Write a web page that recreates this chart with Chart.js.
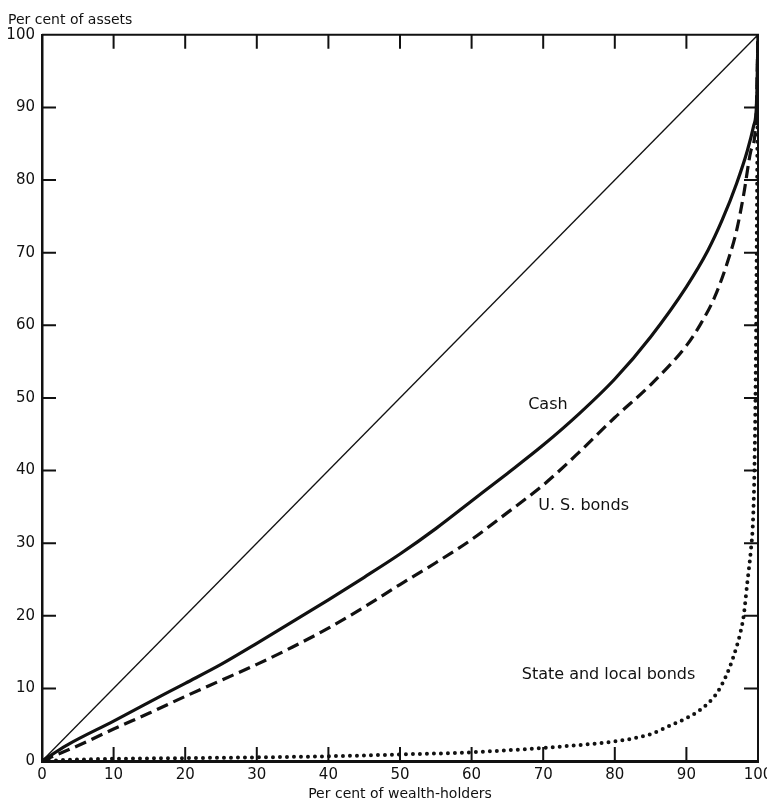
<!DOCTYPE html>
<html lang="en">
<head>
  <meta charset="UTF-8" />
  <title>Concentration of asset holdings</title>
  <script src="https://cdn.jsdelivr.net/npm/chart.js"></script>
  <style>
    body {
      margin: 0;
      background: #fff;
    }
    canvas {
      display: block;
    }
  </style>
</head>
<body>
  <canvas id="lorenz" width="767" height="801"></canvas>

  <script>
    // axis ticks
    const tickValues = [0, 10, 20, 30, 40, 50, 60, 70, 80, 90, 100];

    // line of equal distribution
    const equalX = [0, 100];
    const equalY = [0, 100];

    // Cash
    const cashX = [0, 3.5, 10, 14, 20, 25, 30, 35, 40, 45, 50, 55, 60, 65, 70, 75, 80, 85, 90, 93, 95, 97, 98.5, 99.4, 99.8, 100];
    const cashY = [0, 2.2, 5.5, 7.6, 10.7, 13.3, 16.2, 19.2, 22.2, 25.3, 28.5, 32.0, 35.8, 39.6, 43.5, 47.8, 52.6, 58.4, 65.3, 70.3, 74.5, 79.5, 84.0, 87.5, 90.5, 100];

    // U. S. bonds
    const usBondsX = [0, 5, 10, 15, 20, 25, 30, 35, 40, 45, 50, 55, 60, 65, 70, 75, 80, 85, 90, 92, 94, 96, 97, 98, 99, 99.7, 100];
    const usBondsY = [0, 2.1, 4.4, 6.6, 8.9, 11.1, 13.3, 15.7, 18.3, 21.2, 24.3, 27.3, 30.5, 34.2, 38.0, 42.5, 47.3, 51.8, 57.2, 60.2, 64.0, 69.5, 73.0, 78.0, 84.0, 88.0, 100];

    // State and local bonds
    const stateX = [0, 5, 10, 20, 30, 40, 50, 60, 70, 75, 80, 85, 88, 90, 92, 94, 95, 96, 97, 97.5, 98, 98.5, 99, 99.3, 99.5, 99.7, 99.85, 100];
    const stateY = [0, 0.2, 0.3, 0.4, 0.5, 0.65, 0.9, 1.2, 1.8, 2.2, 2.7, 3.7, 5.0, 5.9, 7.1, 9.0, 10.6, 12.8, 15.7, 17.5, 20.0, 24.5, 29.0, 33.0, 40.0, 55.0, 75.0, 100];

    // curve labels, placed in data units
    const labelText = ["Cash", "U. S. bonds", "State and local bonds"];
    const labelX = [67.9, 69.3, 67.0];
    const labelY = [49.0, 35.2, 11.8];

    const ink = "#111";
    const fontName = "'DejaVu Sans', sans-serif";

    function points(xs, ys) {
      return xs.map((x, i) => ({ x: x, y: ys[i] }));
    }

    // frame on top/right, inward tick marks and curve labels
    const frameAndLabels = {
      id: "frameAndLabels",
      afterDatasetsDraw: (chart) => {
        const ctx = chart.ctx;
        const a = chart.chartArea;
        const xs = chart.scales.x;
        const ys = chart.scales.y;
        const len = 14;

        ctx.save();
        ctx.strokeStyle = ink;
        ctx.lineWidth = 2;
        ctx.beginPath();
        ctx.moveTo(a.left, a.top);
        ctx.lineTo(a.right, a.top);
        ctx.lineTo(a.right, a.bottom);
        ctx.stroke();

        ctx.beginPath();
        tickValues.slice(1, -1).forEach((v) => {
          const px = xs.getPixelForValue(v);
          ctx.moveTo(px, a.bottom);
          ctx.lineTo(px, a.bottom - len);
          ctx.moveTo(px, a.top);
          ctx.lineTo(px, a.top + len);
          const py = ys.getPixelForValue(v);
          ctx.moveTo(a.left, py);
          ctx.lineTo(a.left + len, py);
          ctx.moveTo(a.right, py);
          ctx.lineTo(a.right - len, py);
        });
        ctx.stroke();

        ctx.fillStyle = ink;
        ctx.font = "16px " + fontName;
        ctx.textAlign = "left";
        ctx.textBaseline = "middle";
        labelText.forEach((t, i) => {
          ctx.fillText(t, xs.getPixelForValue(labelX[i]), ys.getPixelForValue(labelY[i]));
        });
        ctx.restore();
      }
    };

    const ctx = document.getElementById("lorenz").getContext("2d");

    new Chart(ctx, {
      type: "scatter",
      data: {
        datasets: [
          {
            label: "Equal distribution",
            data: points(equalX, equalY),
            showLine: true,
            borderColor: ink,
            borderWidth: 1.3,
            pointRadius: 0
          },
          {
            label: "Cash",
            data: points(cashX, cashY),
            showLine: true,
            borderColor: ink,
            borderWidth: 3.2,
            pointRadius: 0,
            cubicInterpolationMode: "monotone"
          },
          {
            label: "U. S. bonds",
            data: points(usBondsX, usBondsY),
            showLine: true,
            borderColor: ink,
            borderWidth: 3.2,
            borderDash: [12, 6],
            pointRadius: 0,
            cubicInterpolationMode: "monotone"
          },
          {
            label: "State and local bonds",
            data: points(stateX, stateY),
            showLine: true,
            borderColor: ink,
            borderWidth: 4,
            borderDash: [0, 7],
            borderCapStyle: "round",
            pointRadius: 0,
            cubicInterpolationMode: "monotone"
          }
        ]
      },
      options: {
        responsive: false,
        animation: false,
        layout: {
          padding: { left: 8, right: 9, top: 0, bottom: 0 }
        },
        plugins: {
          legend: { display: false },
          tooltip: { enabled: false },
          title: {
            display: true,
            text: "Per cent of assets",
            align: "start",
            color: ink,
            font: { family: fontName, size: 14, weight: "normal" },
            padding: { top: 12, bottom: 6 }
          }
        },
        scales: {
          x: {
            type: "linear",
            min: 0,
            max: 100,
            afterBuildTicks: (s) => { s.ticks = tickValues.map((v) => ({ value: v })); },
            afterFit: (s) => { s.height = 40; s.paddingLeft = 0; s.paddingRight = 0; },
            grid: { display: false, drawTicks: false },
            border: { display: true, color: ink, width: 3 },
            ticks: {
              color: ink,
              padding: 5,
              maxRotation: 0,
              font: { family: fontName, size: 15 }
            },
            title: {
              display: true,
              text: "Per cent of wealth-holders",
              color: ink,
              font: { family: fontName, size: 14, lineHeight: 1 },
              padding: { top: 0, bottom: 0 }
            }
          },
          y: {
            type: "linear",
            min: 0,
            max: 100,
            afterBuildTicks: (s) => { s.ticks = tickValues.map((v) => ({ value: v })); },
            afterFit: (s) => { s.width = 34; s.paddingTop = 0; s.paddingBottom = 0; },
            grid: { display: false, drawTicks: false },
            border: { display: true, color: ink, width: 2.5 },
            ticks: {
              color: ink,
              padding: 7,
              font: { family: fontName, size: 15 }
            }
          }
        }
      },
      plugins: [frameAndLabels]
    });
  </script>
</body>
</html>
